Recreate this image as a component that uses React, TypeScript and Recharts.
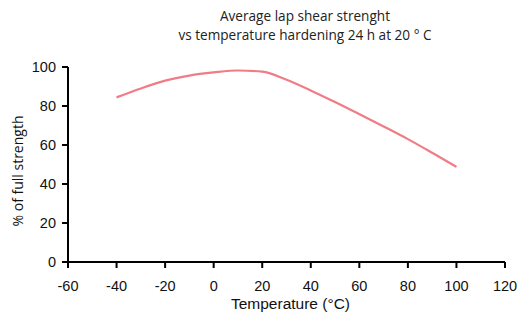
import React from "react";
import { LineChart, Line, XAxis, YAxis, Label } from "recharts";

const temperatures = [-40, -30, -20, -10, 0, 10, 20, 30, 40, 50, 60, 70, 80, 90, 100];
const strength = [84.4, 89, 93, 95.6, 97.2, 98.2, 97.6, 93.5, 88, 82, 75.8, 69.5, 63, 56, 48.8];
const xTicks = [-60, -40, -20, 0, 20, 40, 60, 80, 100, 120];
const yTicks = [0, 20, 40, 60, 80, 100];
const titleLines = ["Average lap shear strenght", "vs temperature hardening 24 h at 20 ° C"];

const data = temperatures.map((t, i) => ({ t, v: strength[i] }));

const tickFont = { fontFamily: "'Liberation Sans', Arial, sans-serif", fontSize: 14.5, fill: "#111" };

const YTitle = (props: any) => {
  const vb = props.viewBox || { x: 0, y: 67, width: 68, height: 195 };
  const cx = 17;
  const cy = vb.y + vb.height / 2 + 6.5;
  return (
    <text
      x={cx}
      y={cy}
      transform={`rotate(-90 ${cx} ${cy})`}
      textAnchor="middle"
      dominantBaseline="central"
      fontFamily="'Open Sans', 'Noto Sans', sans-serif"
      fontSize={14}
      fill="#111"
    >
      % of full strength
    </text>
  );
};

const XTitle = (props: any) => {
  const vb = props.viewBox || { x: 68, y: 262, width: 437, height: 30 };
  const cx = vb.x + vb.width / 2 + 4;
  return (
    <text
      x={cx}
      y={303}
      textAnchor="middle"
      dominantBaseline="central"
      fontFamily="'Liberation Sans', Arial, sans-serif"
      fontSize={15.5}
      fill="#111"
    >
      Temperature (°C)
    </text>
  );
};

export default function App() {
  return (
    <div style={{ position: "absolute", left: 0, top: 0, width: 520, height: 313, background: "#fff" }}>
      <div
        style={{
          position: "absolute",
          left: 105,
          width: 400,
          top: 6,
          textAlign: "center",
          fontFamily: "'Open Sans', 'Noto Sans', sans-serif",
          fontSize: 13.6,
          lineHeight: "19px",
          color: "#222",
        }}
      >
        {titleLines.map((l) => (
          <div key={l}>{l}</div>
        ))}
      </div>
      <LineChart width={520} height={313} data={data} margin={{ top: 67, right: 15, bottom: 21, left: 0 }}>
        <XAxis
          dataKey="t"
          type="number"
          domain={[-60, 120]}
          ticks={xTicks}
          interval={0}
          axisLine={{ stroke: "#000", strokeWidth: 2 }}
          tickLine={{ stroke: "#000", strokeWidth: 2 }}
          tickSize={6}
          tick={{ ...tickFont, dy: 11 }}
          height={30}
        >
          <Label content={<XTitle />} />
        </XAxis>
        <YAxis
          type="number"
          domain={[0, 100]}
          ticks={yTicks}
          interval={0}
          axisLine={{ stroke: "#000", strokeWidth: 2 }}
          tickLine={{ stroke: "#000", strokeWidth: 2 }}
          tickSize={6}
          tick={{ ...tickFont, dx: -4 }}
          width={68}
        >
          <Label content={<YTitle />} />
        </YAxis>
        <Line
          type="monotone"
          dataKey="v"
          stroke="#F07C86"
          strokeWidth={2.2}
          dot={false}
          isAnimationActive={false}
        />
      </LineChart>
    </div>
  );
}
